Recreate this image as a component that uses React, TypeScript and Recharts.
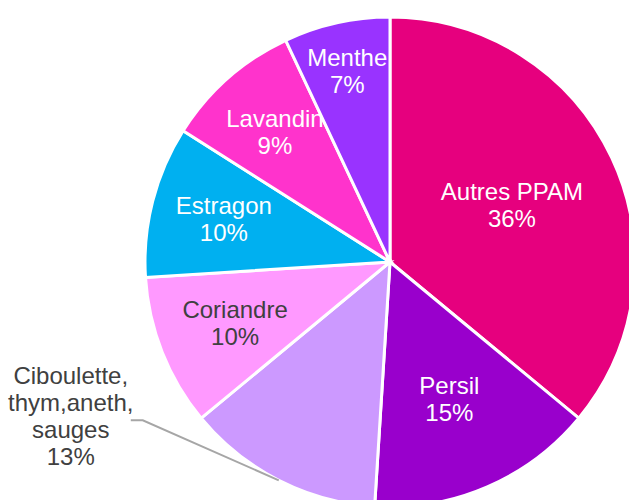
import React from 'react';
import { PieChart, Pie, Cell } from 'recharts';

const categories = ['Autres PPAM', 'Persil', 'Ciboulette, thym,aneth, sauges', 'Coriandre', 'Estragon', 'Lavandin', 'Menthe'];
const labelLines = [['Autres PPAM'], ['Persil'], ['Ciboulette,', 'thym,aneth,', 'sauges'], ['Coriandre'], ['Estragon'], ['Lavandin'], ['Menthe']];
const shares = [36, 15, 13, 10, 10, 9, 7];

const colors = ['#E6007E', '#9900CC', '#CC99FF', '#FF99FF', '#00B0F0', '#FF33CC', '#9933FF'];
const textColors = ['#FFFFFF', '#FFFFFF', '#404040', '#404040', '#FFFFFF', '#FFFFFF', '#FFFFFF'];
const labelRadius = [0.55, 0.61, 0, 0.68, 0.7, 0.71, 0.8];
const outside = [false, false, true, false, false, false, false];

const data = categories.map((name, i) => ({ name, value: shares[i] }));

const RAD = Math.PI / 180;
const FONT = 'Liberation Sans, Arial, sans-serif';
const LH = 27;

const renderLabel = (props: any) => {
  const { cx, cy, midAngle, outerRadius, index } = props;
  const lines = [...labelLines[index], `${shares[index]}%`];
  const cos = Math.cos(-midAngle * RAD);
  const sin = Math.sin(-midAngle * RAD);
  if (outside[index]) {
    const sx = cx + outerRadius * cos;
    const sy = cy + outerRadius * sin;
    const ex = sx - 136;
    const ey = sy - 60;
    const tx = ex - 12;
    const textX = tx - 60;
    const firstY = ey - 45;
    return (
      <g>
        <polyline points={`${sx},${sy} ${ex},${ey} ${tx},${ey}`} fill="none" stroke="#A6A6A6" strokeWidth={2} />
        {lines.map((l, k) => (
          <text key={k} x={textX} y={firstY + k * LH} textAnchor="middle" dominantBaseline="central" fill={textColors[index]} fontSize={24} fontFamily={FONT}>
            {l}
          </text>
        ))}
      </g>
    );
  }
  const r = outerRadius * labelRadius[index];
  const x = cx + r * cos;
  const y = cy + r * sin;
  const start = y - ((lines.length - 1) * LH) / 2;
  return (
    <g>
      {lines.map((l, k) => (
        <text key={k} x={x} y={start + k * LH} textAnchor="middle" dominantBaseline="central" fill={textColors[index]} fontSize={24} fontFamily={FONT}>
          {l}
        </text>
      ))}
    </g>
  );
};

export default function App() {
  return (
    <div style={{ position: 'absolute', left: 0, top: 0, width: 629, height: 500, overflow: 'hidden', background: '#fff' }}>
      <PieChart width={629} height={500} margin={{ top: 0, right: 0, bottom: 0, left: 0 }}>
        <Pie
          data={data}
          dataKey="value"
          nameKey="name"
          cx={390}
          cy={262}
          outerRadius={245}
          startAngle={90}
          endAngle={-270}
          stroke="#FFFFFF"
          strokeWidth={3}
          label={renderLabel}
          labelLine={false}
          isAnimationActive={false}
        >
          {data.map((d, i) => (
            <Cell key={d.name} fill={colors[i]} />
          ))}
        </Pie>
      </PieChart>
    </div>
  );
}
